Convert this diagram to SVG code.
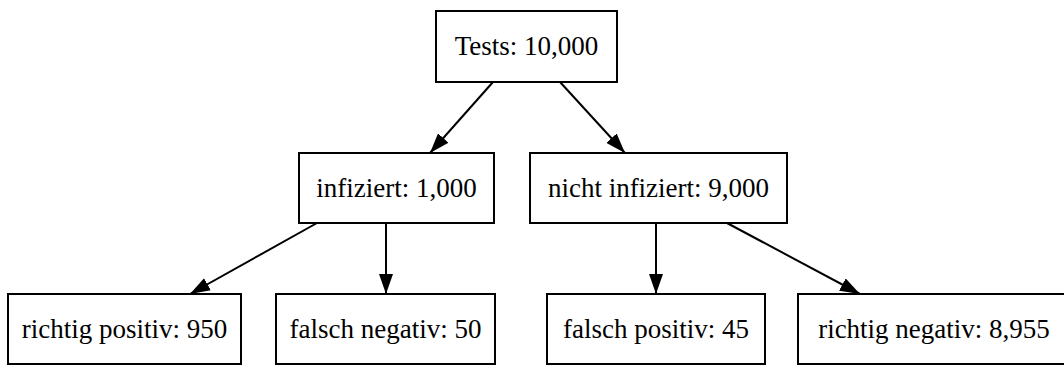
<svg xmlns="http://www.w3.org/2000/svg" width="1064" height="365" viewBox="0 0 1064 365">
<style>
.box{fill:#fff;stroke:#000;stroke-width:2}
.lbl{font-family:"Liberation Serif","Times New Roman",serif;font-size:27px;fill:#000;text-anchor:middle}
.edge{stroke:#000;stroke-width:2;fill:none}
</style>
<defs>
<marker id="arr" viewBox="0 0 20 14" refX="20" refY="7" markerWidth="20" markerHeight="14" markerUnits="userSpaceOnUse" orient="auto">
<path d="M0,0 L20,7 L0,14 z" fill="#000"/>
</marker>
</defs>
<rect width="1064" height="365" fill="#fff"/>
<g id="connectors">
<line class="edge" x1="493" y1="82" x2="430" y2="153" marker-end="url(#arr)"/>
<line class="edge" x1="560" y1="82" x2="625" y2="153" marker-end="url(#arr)"/>
<line class="edge" x1="317" y1="223" x2="190" y2="294" marker-end="url(#arr)"/>
<line class="edge" x1="386" y1="223" x2="386" y2="294" marker-end="url(#arr)"/>
<line class="edge" x1="656" y1="223" x2="656" y2="294" marker-end="url(#arr)"/>
<line class="edge" x1="727" y1="223" x2="860" y2="294" marker-end="url(#arr)"/>
</g>
<g id="tests">
<rect class="box" x="436" y="11" width="181" height="71"/>
<text class="lbl" x="526.5" y="55">Tests: 10,000</text>
</g>
<g id="infiziert">
<rect class="box" x="299" y="153" width="195" height="70"/>
<text class="lbl" x="396.5" y="197">infiziert: 1,000</text>
</g>
<g id="nicht_infiziert">
<rect class="box" x="530" y="153" width="257" height="70"/>
<text class="lbl" x="658.5" y="197">nicht infiziert: 9,000</text>
</g>
<g id="richtig_positiv">
<rect class="box" x="8" y="294" width="233" height="70"/>
<text class="lbl" x="124.5" y="338">richtig positiv: 950</text>
</g>
<g id="falsch_negativ">
<rect class="box" x="276" y="294" width="219" height="70"/>
<text class="lbl" x="385.5" y="338">falsch negativ: 50</text>
</g>
<g id="falsch_positiv">
<rect class="box" x="547" y="294" width="218" height="70"/>
<text class="lbl" x="656" y="338">falsch positiv: 45</text>
</g>
<g id="richtig_negativ">
<rect class="box" x="798" y="294" width="272" height="70"/>
<text class="lbl" x="934" y="338">richtig negativ: 8,955</text>
</g>
</svg>
